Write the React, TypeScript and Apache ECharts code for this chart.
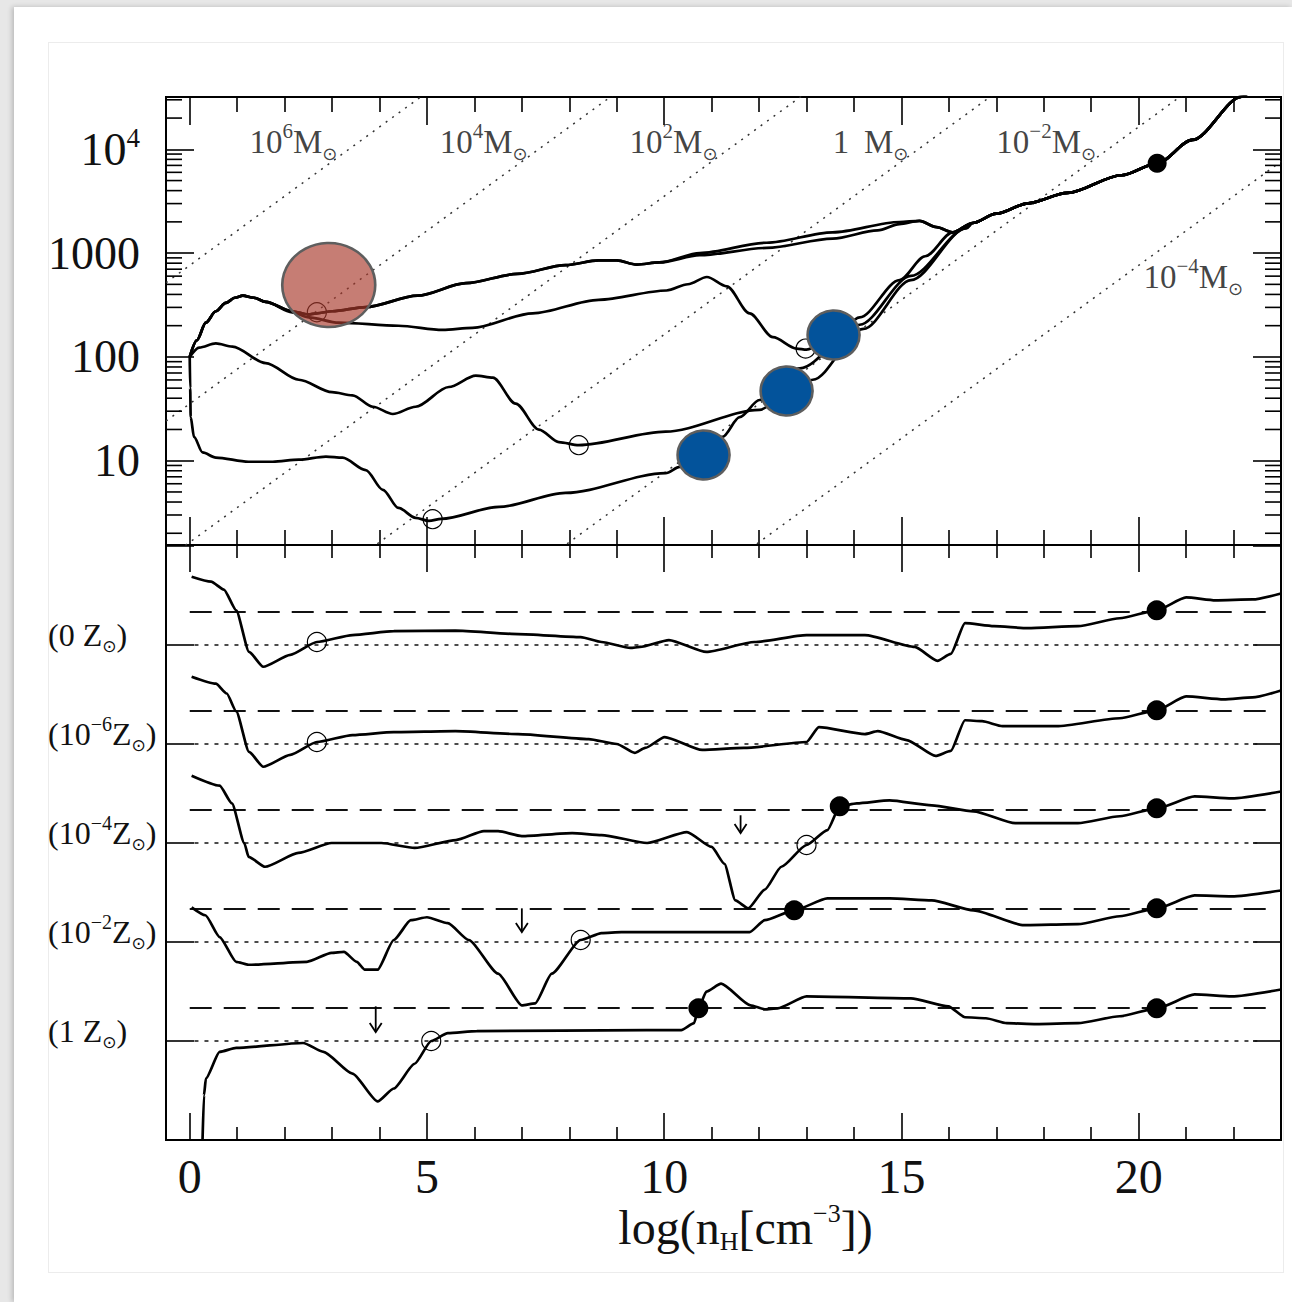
import { useEffect, useRef } from 'react';
import * as echarts from 'echarts';

type Pt = [number, number];

const SERIF = '"Liberation Serif", "DejaVu Serif", serif';

// ---- axes -------------------------------------------------------------
const X_MIN = -0.5;
const X_MAX = 23;
const X_TICK_LABELS = [0, 5, 10, 15, 20];

// upper panel: log10 of temperature
const LOGT_MIN = 0.188;
const LOGT_MAX = 4.504;
const T_TICK_LOG = [1, 2, 3, 4];
const T_TICK_BASE = ['10', '100', '1000', '10'];
const T_TICK_EXP = ['', '', '', '4'];
const T_MINOR_MANTISSA = [2, 3, 4, 5, 6, 7, 8, 9];
const T_MINOR_DECADES = [0, 1, 2, 3, 4];

// lower panel: gamma stacked by row offsets
const GAMMA_AXIS_MAX = 6.01;
const GAMMA_ISO = 1; // dotted reference
const GAMMA_CRIT = 4 / 3; // dashed reference

// ---- constant Jeans-mass lines: [log nH, log T] end points ----------------
const JEANS_1E6: Pt[] = [[-0.5, 2.715], [5, 4.549]];
const JEANS_1E4: Pt[] = [[-0.5, 1.382], [9, 4.549]];
const JEANS_1E2: Pt[] = [[-0.5, 0.048], [13, 4.548]];
const JEANS_1E0: Pt[] = [[3, -0.118], [17, 4.549]];
const JEANS_1EM2: Pt[] = [[7, -0.118], [21, 4.549]];
const JEANS_1EM4: Pt[] = [[11, -0.118], [23, 3.882]];

const MASS_LABEL_BASE = ['10', '10', '10', '1\u2009 ', '10', '10'];
const MASS_LABEL_EXP = ['6', '4', '2', '', '\u22122', '\u22124'];
const MASS_LABEL_X = [1.26, 5.27, 9.27, 13.55, 17.0, 20.1];
const MASS_LABEL_LOGT = [4.075, 4.075, 4.075, 4.075, 4.075, 2.77];

// ---- temperature tracks: [log nH, log T] -----------------------------
const TRACK_TAIL: Pt[] = [
  [16.5, 3.29], [17.0, 3.38], [17.67, 3.48], [18.5, 3.58], [19.64, 3.75],
  [20.39, 3.865], [21.13, 4.09], [22.17, 4.507], [22.5, 4.64],
];

const TRACK_Z0: Pt[] = [
  [0, 2.0], [0.15, 2.16], [0.34, 2.33], [0.55, 2.44], [0.76, 2.52], [0.95, 2.57],
  [1.12, 2.59], [1.35, 2.57], [1.6, 2.53], [2.16, 2.44], [2.5, 2.41], [2.68, 2.42],
  [3.0, 2.44], [3.71, 2.48], [4.8, 2.59], [5.82, 2.71], [6.9, 2.8], [7.92, 2.885],
  [8.62, 2.93], [9.0, 2.93], [9.42, 2.89], [9.9, 2.91], [10.75, 3.0], [12.16, 3.1],
  [13.55, 3.2], [14.96, 3.3], [15.38, 3.31], [15.74, 3.25], [16.08, 3.2],
];

const TRACK_Z6: Pt[] = [
  [0, 2.0], [0.15, 2.16], [0.34, 2.33], [0.55, 2.44], [0.76, 2.52], [0.95, 2.57],
  [1.12, 2.59], [1.35, 2.57], [1.6, 2.53], [2.16, 2.44], [2.5, 2.41], [2.68, 2.42],
  [3.0, 2.44], [3.71, 2.48], [4.8, 2.59], [5.82, 2.71], [6.9, 2.8], [7.92, 2.885],
  [8.62, 2.93], [9.0, 2.93], [9.42, 2.89], [9.9, 2.91], [10.75, 2.98], [12.16, 3.05],
  [13.55, 3.14], [14.5, 3.22], [14.96, 3.28], [15.38, 3.31], [15.74, 3.25], [16.08, 3.2],
];

const TRACK_Z4: Pt[] = [
  [0, 2.0], [0.15, 2.16], [0.34, 2.33], [0.55, 2.44], [0.76, 2.52], [0.95, 2.57],
  [1.12, 2.59], [1.35, 2.57], [1.6, 2.53], [2.16, 2.43], [2.51, 2.38], [3.14, 2.33],
  [4.4, 2.3], [5.33, 2.26], [5.96, 2.28], [7.23, 2.42], [8.62, 2.55], [10.05, 2.64],
  [10.5, 2.7], [10.9, 2.77], [11.32, 2.68], [11.8, 2.42], [12.29, 2.19], [12.79, 2.08],
  [13.0, 2.07], [13.6, 2.2], [14.12, 2.38], [14.96, 2.74], [15.5, 2.97], [16.08, 3.2],
];

const TRACK_Z2: Pt[] = [
  [0, 2.0], [0.2, 2.09], [0.55, 2.13], [0.9, 2.1], [1.6, 1.94], [2.3, 1.78], [3.0, 1.66],
  [3.43, 1.63], [3.86, 1.52], [4.28, 1.45], [4.76, 1.52], [5.46, 1.71], [6.03, 1.82],
  [6.39, 1.8], [6.87, 1.55], [7.36, 1.3], [7.78, 1.18], [8.2, 1.15], [10.03, 1.28],
  [12.01, 1.49], [12.58, 1.64], [13.13, 1.78], [14.2, 2.27], [15.2, 2.74], [16.37, 3.24],
];

const TRACK_Z1: Pt[] = [
  [0, 2.0], [0.01, 1.7], [0.02, 1.42], [0.09, 1.23], [0.27, 1.08], [0.55, 1.03],
  [1.24, 0.99], [1.75, 0.99], [2.3, 1.01], [2.87, 1.04], [3.22, 1.03], [3.71, 0.91],
  [4.07, 0.72], [4.4, 0.545], [4.76, 0.45], [5.04, 0.42], [5.3, 0.44], [6.52, 0.555],
  [7.92, 0.69], [10.03, 0.88], [10.33, 0.94], [11.23, 1.23], [11.59, 1.42], [12.01, 1.585],
  [12.86, 1.89], [14.12, 2.31], [15.2, 2.78], [16.37, 3.24],
];

const TRACK_OPEN: Pt[] = [[2.68, 2.43], [8.2, 1.15], [5.12, 0.437], [12.98, 2.08]];
const TRACK_FILLED: Pt[] = [[20.39, 3.865]];

// highlighted points on the upper panel
const HIGHLIGHT_RED: Pt[] = [[2.93, 2.693]];
const HIGHLIGHT_BLUE: Pt[] = [[10.83, 1.055], [12.58, 1.672], [13.57, 2.211]];

// ---- effective ratio of specific heats, per metallicity: [log nH, gamma] -
const GAMMA_Z0: Pt[] = [
  [0.04, 1.69], [0.45, 1.64], [0.72, 1.56], [0.98, 1.35], [1.25, 0.93], [1.55, 0.78],
  [2.12, 0.9], [2.68, 1.03], [3.43, 1.1], [4.3, 1.14], [5.6, 1.145], [6.92, 1.11],
  [8.24, 1.08], [8.68, 1.03], [9.29, 0.97], [9.49, 0.98], [10.1, 1.05], [10.89, 0.93],
  [11.9, 1.03], [13.0, 1.1], [14.23, 1.1], [15.28, 0.98], [15.76, 0.84], [16.04, 0.91],
  [16.34, 1.22], [16.95, 1.19], [17.66, 1.17], [18.72, 1.19], [19.6, 1.27], [20.38, 1.35],
  [21.0, 1.48], [21.62, 1.45], [22.4, 1.46], [23.0, 1.52],
];

const GAMMA_Z6: Pt[] = [
  [0.04, 1.68], [0.55, 1.61], [0.78, 1.51], [0.98, 1.33], [1.25, 0.92], [1.55, 0.77],
  [2.12, 0.89], [2.68, 1.02], [3.43, 1.09], [4.3, 1.12], [5.6, 1.13], [6.92, 1.1],
  [8.41, 1.05], [9.0, 1.0], [9.38, 0.91], [9.6, 0.96], [10.01, 1.07], [10.8, 0.94],
  [11.68, 0.96], [13.0, 1.02], [13.26, 1.17], [14.23, 1.1], [14.5, 1.13], [15.11, 1.04],
  [15.72, 0.88], [16.04, 0.93], [16.34, 1.24], [16.7, 1.23], [17.13, 1.18], [18.27, 1.18],
  [19.6, 1.26], [20.38, 1.34], [21.0, 1.48], [21.79, 1.45], [22.4, 1.47], [23.0, 1.54],
];

const GAMMA_Z4: Pt[] = [
  [0.04, 1.68], [0.63, 1.58], [0.89, 1.4], [1.15, 1.0], [1.24, 0.86], [1.59, 0.76],
  [2.29, 0.9], [2.99, 1.0], [4.04, 1.0], [4.74, 0.95], [5.61, 1.03], [6.2, 1.12],
  [6.5, 1.12], [7.0, 1.07], [8.06, 1.1], [8.68, 1.08], [9.64, 1.0], [10.48, 1.11],
  [11.0, 0.96], [11.27, 0.79], [11.5, 0.42], [11.77, 0.34], [12.12, 0.53], [12.47, 0.76],
  [13.0, 0.98], [13.44, 1.13], [13.7, 1.37], [14.06, 1.4], [14.75, 1.43], [15.64, 1.38],
  [16.52, 1.32], [17.4, 1.2], [18.72, 1.2], [19.6, 1.27], [20.38, 1.35], [21.18, 1.47],
  [21.96, 1.45], [23.0, 1.52],
];

const GAMMA_Z2: Pt[] = [
  [0.04, 1.35], [0.33, 1.27], [0.63, 1.05], [0.98, 0.8], [1.24, 0.77], [2.47, 0.8],
  [2.99, 0.89], [3.25, 0.9], [3.52, 0.8], [3.69, 0.72], [3.96, 0.72], [4.3, 1.02],
  [4.66, 1.22], [5.0, 1.25], [5.44, 1.19], [5.88, 1.02], [6.5, 0.68], [7.0, 0.36],
  [7.28, 0.38], [7.63, 0.68], [8.24, 1.02], [8.68, 1.09], [9.1, 1.1], [11.8, 1.1],
  [12.12, 1.22], [12.74, 1.32], [13.44, 1.44], [14.75, 1.44], [15.64, 1.42], [16.52, 1.32],
  [17.58, 1.17], [18.72, 1.18], [19.6, 1.26], [20.38, 1.34], [21.18, 1.47], [21.96, 1.46],
  [23.0, 1.52],
];

const GAMMA_Z1: Pt[] = [
  [0.27, 0.0], [0.3, 0.45], [0.34, 0.62], [0.63, 0.89], [0.98, 0.93], [2.39, 0.98],
  [2.82, 0.89], [3.43, 0.67], [3.96, 0.39], [4.3, 0.52], [4.74, 0.77], [5.09, 1.0],
  [5.44, 1.08], [6.05, 1.1], [9.63, 1.11], [10.36, 1.11], [10.63, 1.18], [10.72, 1.33],
  [10.89, 1.5], [11.2, 1.58], [11.82, 1.36], [12.12, 1.32], [12.39, 1.33], [13.0, 1.45],
  [15.2, 1.43], [15.99, 1.35], [16.34, 1.24], [16.78, 1.23], [17.22, 1.18], [17.84, 1.17],
  [18.72, 1.18], [19.6, 1.25], [20.38, 1.33], [21.18, 1.47], [21.96, 1.45], [23.0, 1.52],
];

// markers on the gamma curves: [log nH, gamma]
const OPEN_Z0: Pt[] = [[2.68, 1.03]];
const OPEN_Z6: Pt[] = [[2.68, 1.02]];
const OPEN_Z4: Pt[] = [[13.0, 0.98]];
const OPEN_Z2: Pt[] = [[8.24, 1.02]];
const OPEN_Z1: Pt[] = [[5.09, 1.0]];
const FILLED_Z0: Pt[] = [[20.38, 1.35]];
const FILLED_Z6: Pt[] = [[20.38, 1.34]];
const FILLED_Z4: Pt[] = [[13.7, 1.37], [20.38, 1.35]];
const FILLED_Z2: Pt[] = [[12.74, 1.32], [20.38, 1.34]];
const FILLED_Z1: Pt[] = [[10.72, 1.33], [20.38, 1.33]];
// downward arrows: [log nH, gamma from, gamma to]
const ARROW_Z4: [number, number, number][] = [[11.61, 1.28, 1.1]];
const ARROW_Z2: [number, number, number][] = [[7.0, 1.34, 1.1]];
const ARROW_Z1: [number, number, number][] = [[3.92, 1.35, 1.09]];

// rows of the lower panel, bottom to top
const ROW_OFFSET = [0, 1, 2, 3, 4];
const ROW_LABEL_BASE = ['1 ', '10', '10', '10', '0 '];
const ROW_LABEL_EXP = ['', '\u22122', '\u22124', '\u22126', ''];

const ROWS = [
  { gamma: GAMMA_Z1, open: OPEN_Z1, filled: FILLED_Z1, arrows: ARROW_Z1 },
  { gamma: GAMMA_Z2, open: OPEN_Z2, filled: FILLED_Z2, arrows: ARROW_Z2 },
  { gamma: GAMMA_Z4, open: OPEN_Z4, filled: FILLED_Z4, arrows: ARROW_Z4 },
  { gamma: GAMMA_Z6, open: OPEN_Z6, filled: FILLED_Z6, arrows: [] as [number, number, number][] },
  { gamma: GAMMA_Z0, open: OPEN_Z0, filled: FILLED_Z0, arrows: [] as [number, number, number][] },
];

const GRID_LEFT = 166;
const GRID_WIDTH = 1115;
const CURVE_WIDTH = 2.7;

function xAxisFor(gridIndex: number, position: 'top' | 'bottom', major: number, minor: number, labels: boolean) {
  return {
    type: 'value',
    gridIndex,
    position,
    min: X_MIN,
    max: X_MAX,
    axisLine: { show: false, onZero: false },
    axisTick: { show: true, inside: true, length: major, lineStyle: { color: '#000', width: 1.6 } },
    minorTick: { show: true, splitNumber: 5, length: minor, lineStyle: { color: '#000', width: 1.6 } },
    splitLine: { show: false },
    minorSplitLine: { show: false },
    axisLabel: labels
      ? {
          show: true,
          margin: 12,
          fontFamily: SERIF,
          fontSize: 48,
          color: '#111',
          formatter: (v: number) => (X_TICK_LABELS.indexOf(v) >= 0 ? String(v) : ''),
        }
      : { show: false },
  };
}

function buildOption() {
  const tickLine = { color: '#000', width: 1.6 };

  const minorLogs: number[] = [];
  T_MINOR_DECADES.forEach((d) =>
    T_MINOR_MANTISSA.forEach((m) => {
      const v = Math.log10(m) + d;
      if (v > LOGT_MIN && v < LOGT_MAX) minorLogs.push(v);
    })
  );

  const jeans = [JEANS_1E6, JEANS_1E4, JEANS_1E2, JEANS_1E0, JEANS_1EM2, JEANS_1EM4].map((pts) => ({
    type: 'line',
    xAxisIndex: 0,
    yAxisIndex: 0,
    data: pts,
    showSymbol: false,
    silent: true,
    z: 2,
    lineStyle: { color: '#333', width: 1.5, type: [2, 6] },
  }));

  const massLabels = {
    type: 'scatter',
    xAxisIndex: 0,
    yAxisIndex: 0,
    symbolSize: 0,
    silent: true,
    z: 3,
    data: MASS_LABEL_X.map((x, i) => ({ value: [x, MASS_LABEL_LOGT[i]], name: String(i) })),
    label: {
      show: true,
      position: 'right',
      distance: 0,
      formatter: (p: any) => {
        const i = Number(p.name);
        const e = MASS_LABEL_EXP[i];
        return `{m|${MASS_LABEL_BASE[i]}}` + (e ? `{e|${e}}` : '') + '{m|M}{s|\u2299}';
      },
      rich: {
        m: { fontFamily: SERIF, fontSize: 33, lineHeight: 42, color: '#111' },
        e: { fontFamily: SERIF, fontSize: 21, lineHeight: 27, verticalAlign: 'top', color: '#111' },
        s: { fontFamily: 'DejaVu Sans', fontSize: 18, lineHeight: 19, verticalAlign: 'bottom', color: '#111' },
      },
    },
  };

  const tracks = [TRACK_Z0, TRACK_Z6, TRACK_Z4, TRACK_Z2, TRACK_Z1].map((t) => ({
    type: 'line',
    xAxisIndex: 0,
    yAxisIndex: 0,
    data: t.concat(TRACK_TAIL),
    showSymbol: false,
    smooth: 0.3,
    smoothMonotone: 'x',
    silent: true,
    z: 4,
    lineStyle: { color: '#000', width: CURVE_WIDTH },
  }));

  const trackMarkers = [
    {
      type: 'scatter', xAxisIndex: 0, yAxisIndex: 0, silent: true, z: 5,
      symbol: 'circle', symbolSize: 19, data: TRACK_OPEN,
      itemStyle: { color: 'rgba(0,0,0,0)', borderColor: '#000', borderWidth: 1.2, opacity: 1 },
    },
    {
      type: 'scatter', xAxisIndex: 0, yAxisIndex: 0, silent: true, z: 5,
      symbol: 'circle', symbolSize: 19, data: TRACK_FILLED, itemStyle: { color: '#000', opacity: 1 },
    },
    {
      type: 'scatter', xAxisIndex: 0, yAxisIndex: 0, silent: true, z: 8,
      symbol: 'circle', symbolSize: [93, 84], data: HIGHLIGHT_RED,
      itemStyle: { color: 'rgba(168,58,44,0.66)', borderColor: '#5e5e5e', borderWidth: 2.5, opacity: 1 },
    },
    {
      type: 'scatter', xAxisIndex: 0, yAxisIndex: 0, silent: true, z: 8,
      symbol: 'circle', symbolSize: [52, 49], data: HIGHLIGHT_BLUE,
      itemStyle: { color: '#03539b', borderColor: '#5e5e5e', borderWidth: 2.5, opacity: 1 },
    },
  ];

  const logMinorTicks = {
    type: 'custom',
    xAxisIndex: 0,
    yAxisIndex: 0,
    silent: true,
    z: 6,
    data: minorLogs.map((v) => [0, v]),
    encode: { x: 0, y: 1 },
    renderItem: (params: any, api: any) => {
      const cs = params.coordSys;
      const y = api.coord([0, api.value(1)])[1];
      const st = { stroke: '#000', lineWidth: 1.6 };
      return {
        type: 'group',
        children: [
          { type: 'line', shape: { x1: cs.x, y1: y, x2: cs.x + 16, y2: y }, style: st },
          { type: 'line', shape: { x1: cs.x + cs.width - 16, y1: y, x2: cs.x + cs.width, y2: y }, style: st },
        ],
      };
    },
  };

  // lower panel
  const lower: any[] = [];
  ROWS.forEach((row, k) => {
    const off = ROW_OFFSET[k];
    lower.push({
      type: 'line', xAxisIndex: 2, yAxisIndex: 2, silent: true, showSymbol: false, z: 2,
      data: [[0.1, GAMMA_ISO + off], [22.5, GAMMA_ISO + off]],
      lineStyle: { color: '#111', width: 1.5, type: [4, 6] },
    });
    lower.push({
      type: 'line', xAxisIndex: 2, yAxisIndex: 2, silent: true, showSymbol: false, z: 2,
      data: [[0, GAMMA_CRIT + off], [22.85, GAMMA_CRIT + off]],
      lineStyle: { color: '#111', width: 1.8, type: [22, 12] },
    });
    lower.push({
      type: 'line', xAxisIndex: 2, yAxisIndex: 2, silent: true, showSymbol: false, z: 4,
      data: row.gamma.map(([x, g]) => [x, g + off]),
      smooth: 0.2,
      smoothMonotone: 'x',
      lineStyle: { color: '#000', width: CURVE_WIDTH },
    });
    lower.push({
      type: 'scatter', xAxisIndex: 2, yAxisIndex: 2, silent: true, z: 5,
      symbol: 'circle', symbolSize: 19,
      data: row.open.map(([x, g]) => [x, g + off]),
      itemStyle: { color: 'rgba(0,0,0,0)', borderColor: '#000', borderWidth: 1.2, opacity: 1 },
    });
    lower.push({
      type: 'scatter', xAxisIndex: 2, yAxisIndex: 2, silent: true, z: 5,
      symbol: 'circle', symbolSize: 20,
      data: row.filled.map(([x, g]) => [x, g + off]),
      itemStyle: { color: '#000', opacity: 1 },
    });
    if (row.arrows.length) {
      lower.push({
        type: 'custom', xAxisIndex: 2, yAxisIndex: 2, silent: true, z: 5,
        data: row.arrows.map(([x, g1, g2]) => [x, g1 + off, g2 + off]),
        encode: { x: 0, y: [1, 2] },
        renderItem: (_p: any, api: any) => {
          const a = api.coord([api.value(0), api.value(1)]);
          const b = api.coord([api.value(0), api.value(2)]);
          const st = { stroke: '#000', lineWidth: 1.8, fill: 'none' };
          return {
            type: 'group',
            children: [
              { type: 'line', shape: { x1: a[0], y1: a[1], x2: b[0], y2: b[1] }, style: st },
              { type: 'polyline', shape: { points: [[b[0] - 6, b[1] - 9], [b[0], b[1]], [b[0] + 6, b[1] - 9]] }, style: st },
            ],
          };
        },
      });
    }
  });

  const tLabelRich = {
    n: { fontFamily: SERIF, fontSize: 46, lineHeight: 50, color: '#111' },
    e: { fontFamily: SERIF, fontSize: 27, lineHeight: 32, verticalAlign: 'top', color: '#111' },
  };

  const rowLabelRich = {
    p: { fontFamily: SERIF, fontSize: 32, lineHeight: 40, color: '#111' },
    e: { fontFamily: SERIF, fontSize: 20, lineHeight: 26, verticalAlign: 'top', color: '#111' },
    s: { fontFamily: 'DejaVu Sans', fontSize: 17, lineHeight: 18, verticalAlign: 'bottom', color: '#111' },
  };

  const yTop = (position: 'left' | 'right', labels: boolean) => ({
    type: 'value',
    gridIndex: 0,
    position,
    min: LOGT_MIN,
    max: LOGT_MAX,
    axisLine: { show: false, onZero: false },
    axisTick: { show: true, inside: true, length: 28, lineStyle: tickLine },
    splitLine: { show: false },
    axisLabel: labels
      ? {
          show: true,
          margin: 26,
          align: 'right',
          rich: tLabelRich,
          formatter: (v: number) => {
            const i = T_TICK_LOG.indexOf(Math.round(v));
            if (i < 0 || Math.abs(v - Math.round(v)) > 1e-6) return '';
            return `{n|${T_TICK_BASE[i]}}` + (T_TICK_EXP[i] ? `{e|${T_TICK_EXP[i]}}` : '');
          },
        }
      : { show: false },
  });

  const yLow = (position: 'left' | 'right', labels: boolean) => ({
    type: 'value',
    gridIndex: 1,
    position,
    min: 0,
    max: GAMMA_AXIS_MAX,
    interval: 1,
    axisLine: { show: false, onZero: false },
    axisTick: { show: true, inside: true, length: 28, lineStyle: tickLine },
    splitLine: { show: false },
    axisLabel: labels
      ? {
          show: true,
          margin: GRID_LEFT - 48,
          align: 'left',
          padding: [0, 0, 20, 0],
          rich: rowLabelRich,
          formatter: (v: number) => {
            const k = ROW_OFFSET.indexOf(Math.round(v) - 1);
            if (k < 0 || Math.abs(v - Math.round(v)) > 1e-6) return '';
            const e = ROW_LABEL_EXP[k];
            return `{p|(${ROW_LABEL_BASE[k]}}` + (e ? `{e|${e}}` : '') + '{p|Z}{s|\u2299}{p|)}';
          },
        }
      : { show: false },
  });

  return {
    animation: false,
    backgroundColor: 'transparent',
    grid: [
      { left: GRID_LEFT, top: 97, width: GRID_WIDTH, height: 448, show: true, borderColor: '#000', borderWidth: 2, backgroundColor: 'transparent' },
      { left: GRID_LEFT, top: 545, width: GRID_WIDTH, height: 595, show: true, borderColor: '#000', borderWidth: 2, backgroundColor: 'transparent' },
    ],
    xAxis: [
      xAxisFor(0, 'bottom', 28, 15, false),
      xAxisFor(0, 'top', 28, 15, false),
      {
        ...xAxisFor(1, 'bottom', 27, 13, true),
        name: '{t|log(n}{sub|H}{t|[cm}{sup|\u22123}{t|])}',
        nameLocation: 'middle',
        nameGap: 58,
        nameTextStyle: {
          padding: [0, 0, 0, 44],
          rich: {
            t: { fontFamily: SERIF, fontSize: 48, lineHeight: 54, color: '#111' },
            sub: { fontFamily: SERIF, fontSize: 26, lineHeight: 24, verticalAlign: 'bottom', color: '#111' },
            sup: { fontFamily: SERIF, fontSize: 26, lineHeight: 32, verticalAlign: 'top', color: '#111' },
          },
        },
      },
      xAxisFor(1, 'top', 27, 13, false),
    ],
    yAxis: [yTop('left', true), yTop('right', false), yLow('left', true), yLow('right', false)],
    series: [...jeans, massLabels, ...tracks, ...trackMarkers, logMinorTicks, ...lower],
  };
}

export default function App() {
  const ref = useRef<HTMLDivElement>(null);
  useEffect(() => {
    if (!ref.current) return;
    const chart = echarts.init(ref.current, undefined, { renderer: 'svg' });
    chart.setOption(buildOption() as any);
    return () => chart.dispose();
  }, []);
  return (
    <div style={{ position: 'absolute', left: 0, top: 0, width: 1292, height: 1302, background: '#e7e7e7', overflow: 'hidden' }}>
      <div style={{ position: 'absolute', left: 14, top: 7, width: 1278, height: 1295, background: '#fff', boxShadow: '-2px 0 5px rgba(0,0,0,0.2)' }} />
      <div style={{ position: 'absolute', left: 48, top: 42, width: 1234, height: 1229, background: '#fff', border: '1px solid #ececec' }} />
      <div ref={ref} style={{ position: 'absolute', left: 0, top: 0, width: 1292, height: 1302 }} />
    </div>
  );
}
